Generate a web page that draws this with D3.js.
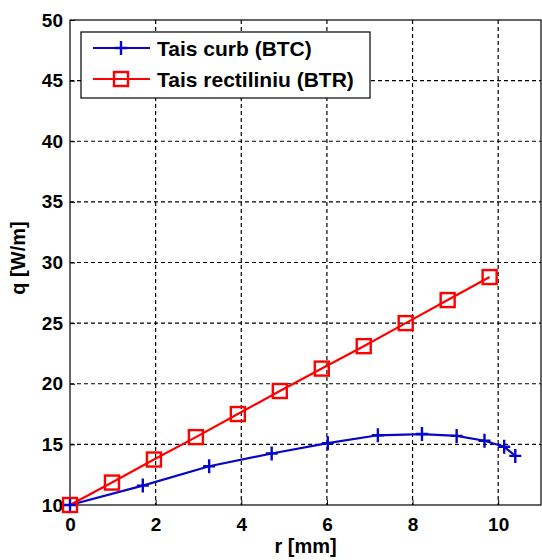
<!DOCTYPE html>
<html>
<head>
<meta charset="utf-8">
<script src="https://cdn.jsdelivr.net/npm/d3@7"></script>
<style>
  body { margin: 0; background: #fff; }
  svg text { font-family: "Liberation Sans", Arial, sans-serif; font-weight: bold; fill: #000; }
</style>
</head>
<body>
<svg id="chart" width="542" height="560"></svg>
<script>
// curved cutter (BTC)
const curbR = [0, 1.7, 3.25, 4.71, 6.02, 7.19, 8.22, 9.03, 9.68, 10.14, 10.4];
const curbQ = [10, 11.6, 13.2, 14.25, 15.1, 15.75, 15.85, 15.7, 15.3, 14.8, 14.05];
// straight cutter (BTR)
const rectR = [0, 0.98, 1.96, 2.94, 3.92, 4.9, 5.88, 6.86, 7.84, 8.82, 9.8];
const rectQ = [10, 11.85, 13.75, 15.6, 17.5, 19.4, 21.25, 23.1, 25.0, 26.9, 28.8];

const xTicks = [0, 2, 4, 6, 8, 10];
const yTicks = [10, 15, 20, 25, 30, 35, 40, 45, 50];
const legendLabels = ['Tais curb (BTC)', 'Tais rectiliniu (BTR)'];

const svg = d3.select('#chart');
const margin = { left: 70, top: 20, right: 1, bottom: 55 };
const width = 542 - margin.left - margin.right;
const height = 560 - margin.top - margin.bottom;

const x = d3.scaleLinear().domain([0, 11]).range([0, width]);
const y = d3.scaleLinear().domain([10, 50]).range([height, 0]);

const g = svg.append('g').attr('transform', `translate(${margin.left},${margin.top})`);

// grid
g.selectAll('.vgrid').data(xTicks.filter(d => d > 0)).enter().append('line')
    .attr('x1', d => x(d)).attr('x2', d => x(d))
    .attr('y1', 0).attr('y2', height)
    .style('stroke', '#000').style('stroke-width', 1.2).style('stroke-dasharray', '4,3');
g.selectAll('.hgrid').data(yTicks.filter(d => d > 10 && d < 50)).enter().append('line')
    .attr('x1', 0).attr('x2', width)
    .attr('y1', d => y(d)).attr('y2', d => y(d))
    .style('stroke', '#000').style('stroke-width', 1.2).style('stroke-dasharray', '4,3');

// axes
const xAxis = g.append('g').attr('transform', `translate(0,${height})`)
    .call(d3.axisBottom(x).tickValues(xTicks).tickSize(-5).tickPadding(13));
const yAxis = g.append('g')
    .call(d3.axisLeft(y).tickValues(yTicks).tickSize(-5).tickPadding(7));
[xAxis, yAxis].forEach(a => {
    a.selectAll('text').style('font-size', '19px');
    a.select('.domain').remove();
    a.selectAll('line').style('stroke', '#000');
});

// box
g.append('rect').attr('width', width).attr('height', height)
    .style('fill', 'none').style('stroke', '#000').style('stroke-width', 1.2);

svg.append('text').attr('x', margin.left + x(5.5)).attr('y', 553)
    .attr('text-anchor', 'middle').style('font-size', '20px').text('r [mm]');
svg.append('text').attr('transform', `translate(25,258) rotate(-90)`)
    .attr('text-anchor', 'middle').style('font-size', '20px').text('q [W/m]');

const line = d3.line().x(d => x(d[0])).y(d => y(d[1]));
const curb = curbR.map((r, i) => [r, curbQ[i]]);
const rect = rectR.map((r, i) => [r, rectQ[i]]);

const blue = '#0606c8';
const red = '#ff0000';

g.append('path').datum(curb).attr('d', line)
    .style('fill', 'none').style('stroke', blue).style('stroke-width', 2.2);
g.append('path').datum(rect).attr('d', line)
    .style('fill', 'none').style('stroke', red).style('stroke-width', 2.2);

function drawPlus(sel, cx, cy) {
    sel.append('path')
        .attr('d', `M${cx - 6},${cy}H${cx + 6}M${cx},${cy - 7}V${cy + 7}`)
        .style('stroke', blue).style('stroke-width', 2.4).style('fill', 'none');
}
function drawSquare(sel, cx, cy) {
    sel.append('rect').attr('x', cx - 7).attr('y', cy - 7).attr('width', 14).attr('height', 14)
        .style('fill', 'none').style('stroke', red).style('stroke-width', 2.4);
}
curb.forEach(d => drawPlus(g, x(d[0]), y(d[1])));
rect.forEach(d => drawSquare(g, x(d[0]), y(d[1])));

// legend
const lg = svg.append('g');
lg.append('rect').attr('x', 81).attr('y', 32).attr('width', 289).attr('height', 66)
    .style('fill', '#fff').style('stroke', '#000').style('stroke-width', 1.2);
[0, 1].forEach(i => {
    const ly = 48 + i * 31;
    const col = i === 0 ? blue : red;
    lg.append('line').attr('x1', 93).attr('x2', 150).attr('y1', ly).attr('y2', ly)
        .style('stroke', col).style('stroke-width', 2.2);
    if (i === 0) drawPlus(lg, 121, ly); else drawSquare(lg, 121, ly);
    lg.append('text').attr('x', 157).attr('y', ly + 8).style('font-size', '21px').text(legendLabels[i]);
});
</script>
</body>
</html>
